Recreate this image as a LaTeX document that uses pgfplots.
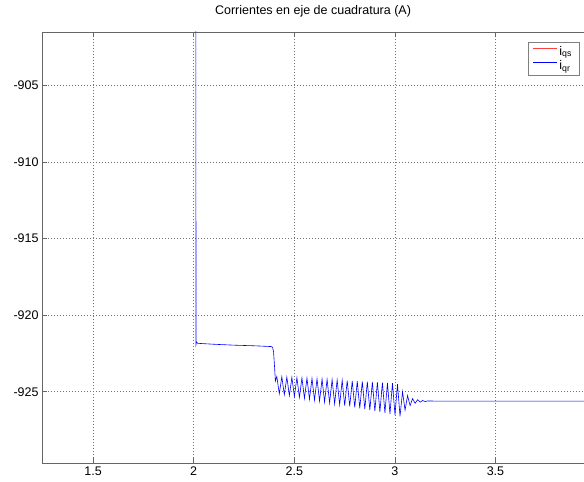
\documentclass[border=0pt]{standalone}
\usepackage{pgfplots}
\pgfplotsset{compat=1.18}
\usepackage{fontspec}
\setmainfont{Liberation Sans}
\begin{document}
\begin{tikzpicture}[x=1pt,y=1pt]
\path[use as bounding box] (-42.1pt,-18.7pt) rectangle (541.9pt,463.3pt);
\begin{axis}[
  scale only axis,
  width=541.9pt, height=431.3pt,
  at={(0pt,0pt)}, anchor=south west,
  xmin=1.2465, xmax=3.94,
  ymin=-929.67, ymax=-901.52,
  axis x line*=box, axis y line*=left,
  axis line style={black!60, line width=0.6pt},
  xtick={1.5,2,2.5,3,3.5},
  ytick={-925,-920,-915,-910,-905},
  xticklabels={1.5,2,2.5,3,3.5},
  tick align=inside,
  major tick length=5pt,
  tick style={black!60, line width=0.5pt},
  xtick pos=both, ytick pos=left,
  grid=major,
  grid style={black!55, line width=0.5pt, dash pattern=on 0.8pt off 2.2pt},
  /pgf/number format/assume math mode=true,
  ticklabel style={font=\fontsize{12.5}{14}\selectfont},
  title={Corrientes en eje de cuadratura (A)},
  title style={font=\fontsize{12.5}{14}\selectfont, anchor=base, at={(0.5,1)}, yshift=11pt},
  legend style={at={(0.991,0.977)}, anchor=north east,
    font=\fontsize{12.5}{13}\selectfont, inner xsep=5pt, inner ysep=2pt, row sep=0pt,
    fill=white, draw=gray},
  legend cell align=left,
  legend image code/.code={\draw[line width=0.7pt, #1] (0pt,3.5pt) -- (24pt,3.5pt);},
]
\addlegendimage{color=red!75, draw=red!75}
\addlegendentry{i\textsubscript{qs}}
\addlegendimage{color=blue, draw=blue}
\addlegendentry{i\textsubscript{qr}}
\addplot[color=blue, line width=0.6pt, forget plot] coordinates {
(2.0105,-895) (2.0115,-921.9) (2.014,-921.75) (2.02,-921.84) (2.1,-921.9) (2.2,-921.96)
(2.3,-922.0) (2.385,-922.05) (2.392,-922.1) (2.397,-922.4) (2.402,-923.4) (2.406,-924.3)
(2.413,-924.00) (2.4255,-925.13)
(2.438,-924.02) (2.4505,-925.19)
(2.463,-924.04) (2.4755,-925.25)
(2.488,-924.06) (2.5005,-925.31)
(2.513,-924.08) (2.5255,-925.37)
(2.538,-924.10) (2.5505,-925.43)
(2.563,-924.11) (2.5755,-925.49)
(2.588,-924.13) (2.6005,-925.55)
(2.613,-924.15) (2.6255,-925.61)
(2.638,-924.17) (2.6505,-925.67)
(2.663,-924.19) (2.6755,-925.73)
(2.688,-924.21) (2.7005,-925.79)
(2.713,-924.23) (2.7255,-925.85)
(2.738,-924.25) (2.7505,-925.91)
(2.763,-924.27) (2.7755,-925.96)
(2.788,-924.29) (2.8005,-926.02)
(2.813,-924.31) (2.8255,-926.08)
(2.838,-924.33) (2.8505,-926.14)
(2.863,-924.34) (2.8755,-926.20)
(2.888,-924.36) (2.9005,-926.26)
(2.913,-924.38) (2.9255,-926.32)
(2.938,-924.40) (2.9505,-926.38)
(2.963,-924.42) (2.9755,-926.44)
(2.988,-924.44) (3.0005,-926.50)
(3.013,-924.50) (3.0255,-926.60)
(3.038,-925.00) (3.0505,-926.20)
(3.063,-925.25) (3.0755,-925.90)
(3.088,-925.45) (3.1005,-925.75)
(3.113,-925.52) (3.1255,-925.68)
(3.138,-925.57) (3.1505,-925.64)
(3.163,-925.60) (3.2,-925.61)
(3.5,-925.61) (3.94,-925.61)
};
\end{axis}
\end{tikzpicture}
\end{document}
